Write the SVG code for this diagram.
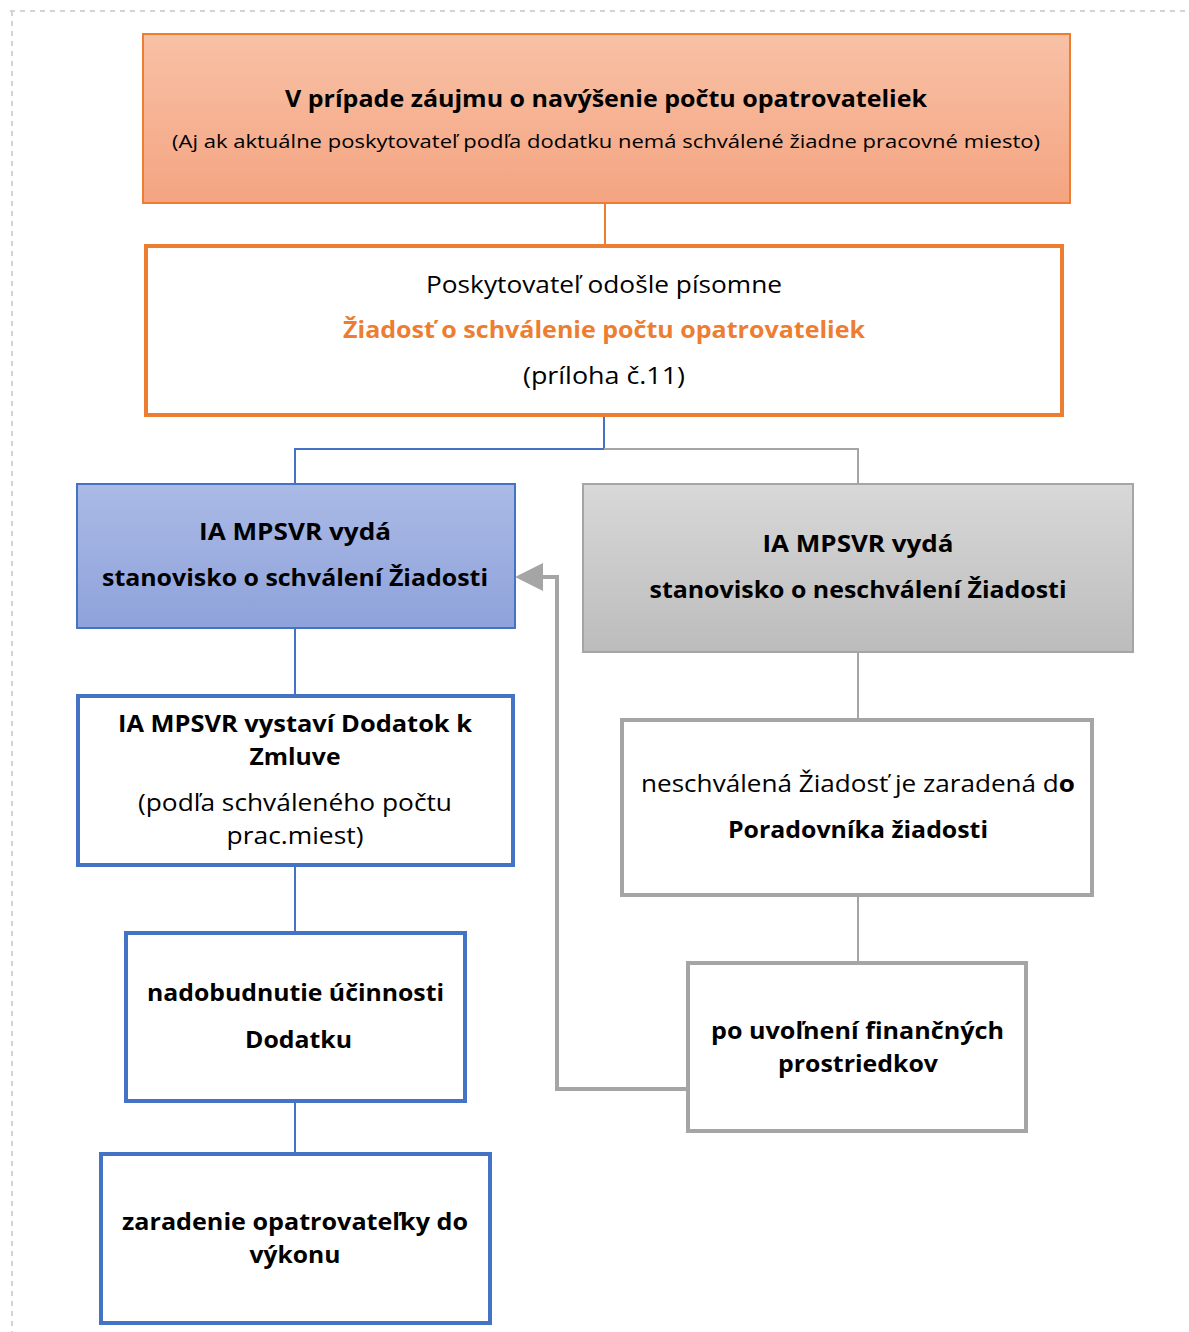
<svg xmlns="http://www.w3.org/2000/svg" width="1189" height="1332" viewBox="0 0 1189 1332">
<style>
text{font-family:"Open Sans","Noto Sans",sans-serif;fill:#000;text-anchor:middle}
.b{font-weight:bold}
.t{font-size:23px}
.s{font-size:19px}
.org{fill:#ed7d31}
.conn{fill:none;stroke-width:2}
.blue4{fill:#fff;stroke:#4472c4;stroke-width:4}
.gray4{fill:#fff;stroke:#a5a5a5;stroke-width:4}
</style>
<defs>
<linearGradient id="gOr" x1="0" y1="0" x2="0" y2="1"><stop offset="0" stop-color="#f8c1a6"/><stop offset="1" stop-color="#f4a481"/></linearGradient>
<linearGradient id="gBl" x1="0" y1="0" x2="0" y2="1"><stop offset="0" stop-color="#abbae5"/><stop offset="1" stop-color="#8ea2db"/></linearGradient>
<linearGradient id="gGr" x1="0" y1="0" x2="0" y2="1"><stop offset="0" stop-color="#d8d8d8"/><stop offset="1" stop-color="#bcbcbc"/></linearGradient>
<marker id="arrG" markerUnits="userSpaceOnUse" markerWidth="28" markerHeight="28" viewBox="0 0 28 28" refX="0" refY="14" orient="auto"><path d="M0,0 L28,14 L0,28 z" fill="#a5a5a5"/></marker>
</defs>
<rect width="1189" height="1332" fill="#fff"/>
<path d="M10,11 H1189 M12,11 V1332" fill="none" stroke="#d4d4d4" stroke-width="2" stroke-dasharray="5,5"/>
<g id="connectors">
<path class="conn" d="M605,203 V245" stroke="#ed7d31"/>
<path class="conn" d="M604,415 V449 H295 V484" stroke="#4472c4"/>
<path class="conn" d="M604,449 H858 V484" stroke="#a5a5a5"/>
<path class="conn" d="M295,628 V696" stroke="#4472c4"/>
<path class="conn" d="M295,865 V933" stroke="#4472c4"/>
<path class="conn" d="M295,1101 V1154" stroke="#4472c4"/>
<path class="conn" d="M858,652 V720" stroke="#a5a5a5"/>
<path class="conn" d="M858,895 V963" stroke="#a5a5a5"/>
<path d="M690,1089 H557 V577 H543" fill="none" stroke="#a5a5a5" stroke-width="4" marker-end="url(#arrG)"/>
</g>
<g id="n1">
<rect x="143" y="34" width="927" height="169" fill="url(#gOr)" stroke="#ed7d31" stroke-width="2"/>
<text class="b t" x="606" y="107" textLength="642" lengthAdjust="spacingAndGlyphs">V prípade záujmu o navýšenie počtu opatrovateliek</text>
<text class="s" x="606" y="148" textLength="868" lengthAdjust="spacingAndGlyphs">(Aj ak aktuálne poskytovateľ podľa dodatku nemá schválené žiadne pracovné miesto)</text>
</g>
<g id="n2">
<rect x="146" y="246" width="916" height="169" fill="#fff" stroke="#ed7d31" stroke-width="4"/>
<text class="t" x="604" y="293" textLength="356" lengthAdjust="spacingAndGlyphs">Poskytovateľ odošle písomne</text>
<text class="b t org" x="604" y="338" textLength="522" lengthAdjust="spacingAndGlyphs">Žiadosť o schválenie počtu opatrovateliek</text>
<text class="t" x="604" y="384" textLength="162" lengthAdjust="spacingAndGlyphs">(príloha č.11)</text>
</g>
<g id="n3">
<rect x="77" y="484" width="438" height="144" fill="url(#gBl)" stroke="#4472c4" stroke-width="2"/>
<text class="b t" x="295" y="540" textLength="192" lengthAdjust="spacingAndGlyphs">IA MPSVR vydá</text>
<text class="b t" x="295" y="586" textLength="386" lengthAdjust="spacingAndGlyphs">stanovisko o schválení Žiadosti</text>
</g>
<g id="n4">
<rect x="583" y="484" width="550" height="168" fill="url(#gGr)" stroke="#a5a5a5" stroke-width="2"/>
<text class="b t" x="858" y="552" textLength="191" lengthAdjust="spacingAndGlyphs">IA MPSVR vydá</text>
<text class="b t" x="858" y="598" textLength="417" lengthAdjust="spacingAndGlyphs">stanovisko o neschválení Žiadosti</text>
</g>
<g id="n5">
<rect class="blue4" x="78" y="696" width="435" height="169"/>
<text class="b t" x="295" y="732" textLength="354" lengthAdjust="spacingAndGlyphs">IA MPSVR vystaví Dodatok k</text>
<text class="b t" x="295" y="765" textLength="91" lengthAdjust="spacingAndGlyphs">Zmluve</text>
<text class="t" x="295" y="811" textLength="314" lengthAdjust="spacingAndGlyphs">(podľa schváleného počtu</text>
<text class="t" x="295" y="844" textLength="137" lengthAdjust="spacingAndGlyphs">prac.miest)</text>
</g>
<g id="n6">
<rect class="blue4" x="126" y="933" width="339" height="168"/>
<text class="b t" x="295.5" y="1001" textLength="297" lengthAdjust="spacingAndGlyphs">nadobudnutie účinnosti</text>
<text class="b t" x="298.5" y="1048" textLength="107" lengthAdjust="spacingAndGlyphs">Dodatku</text>
</g>
<g id="n7">
<rect class="blue4" x="101" y="1154" width="389" height="169"/>
<text class="b t" x="295" y="1230" textLength="346" lengthAdjust="spacingAndGlyphs">zaradenie opatrovateľky do</text>
<text class="b t" x="295" y="1263" textLength="91" lengthAdjust="spacingAndGlyphs">výkonu</text>
</g>
<g id="n8">
<rect class="gray4" x="622" y="720" width="470" height="175"/>
<text class="t" x="858" y="792" textLength="434" lengthAdjust="spacingAndGlyphs">neschválená Žiadosť je zaradená d<tspan class="b">o</tspan></text>
<text class="b t" x="858" y="838" textLength="260" lengthAdjust="spacingAndGlyphs">Poradovníka žiadosti</text>
</g>
<g id="n9">
<rect class="gray4" x="688" y="963" width="338" height="168"/>
<text class="b t" x="857.5" y="1039" textLength="293" lengthAdjust="spacingAndGlyphs">po uvoľnení finančných</text>
<text class="b t" x="858" y="1072" textLength="160" lengthAdjust="spacingAndGlyphs">prostriedkov</text>
</g>
</svg>
